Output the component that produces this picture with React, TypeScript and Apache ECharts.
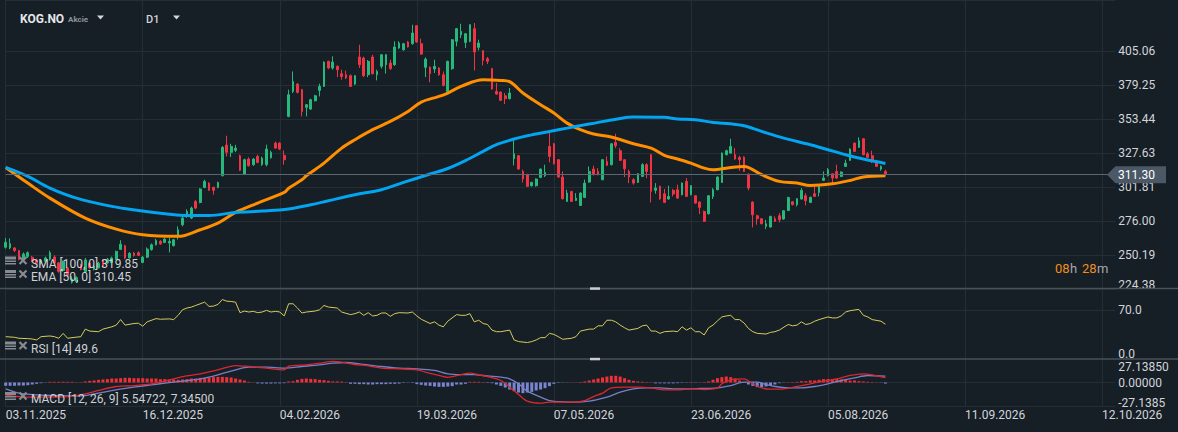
import React, { useEffect, useRef } from 'react';
import * as echarts from 'echarts';

// ---------------- data ----------------
const dateLabels = ['03.11.2025', '16.12.2025', '04.02.2026', '19.03.2026', '07.05.2026', '23.06.2026', '05.08.2026', '11.09.2026', '12.10.2026'];
const labelStep = 31;
const categoryCount = 252;

const opens = [256.1,255.6,255.6,253.6,247.0,249.0,248.5,246.5,244.0,245.5,247.0,248.7,244.2,238.5,240.4,229.5,230.0,242.5,237.5,244.0,239.3,240.5,246.0,244.2,244.5,247.1,254.5,257.3,248.0,251.7,252.0,244.6,248.6,254.4,258.0,260.6,259.8,259.3,257.3,264.4,273.2,279.6,278.3,291.0,290.2,301.6,304.9,301.6,301.6,310.5,333.8,328.3,329.8,325.7,311.5,323.2,318.9,325.2,319.0,318.9,324.2,335.3,335.3,326.0,355.6,374.6,380.2,375.9,362.5,361.2,367.5,375.4,378.4,397.5,392.4,393.7,388.1,387.3,386.6,380.2,400.8,400.0,387.3,400.8,387.3,393.7,394.9,396.2,394.9,407.6,406.3,412.2,410.9,424.6,410.9,392.9,393.1,391.6,392.4,387.3,374.6,391.9,412.7,417.7,411.9,412.7,422.3,408.1,405.6,399.5,391.9,374.6,374.1,371.3,369.1,323.4,325.7,313.8,311.3,302.9,302.9,309.2,310.5,332.8,334.8,322.7,309.5,291.0,298.6,291.7,287.9,294.0,305.7,315.6,313.8,307.5,321.4,318.9,335.9,329.5,322.7,313.8,307.5,305.4,310.0,318.9,326.5,299.4,302.4,296.8,292.8,299.4,299.9,296.1,306.2,296.1,295.3,290.5,283.4,281.6,294.8,299.9,305.4,326.5,327.7,326.5,324.4,324.7,311.8,290.5,280.1,277.8,272.0,271.5,277.8,280.1,277.6,284.1,290.7,288.5,292.8,295.3,290.2,296.8,297.8,307.0,310.5,312.0,313.8,310.0,317.6,322.2,335.3,332.1,338.6,327.2,325.7,320.1,315.6,313.8];
const closes = [259.9,258.9,253.6,246.7,251.0,252.0,245.9,244.0,246.0,248.0,252.0,244.2,237.8,245.4,234.8,232.0,233.0,239.2,246.5,240.5,241.6,244.0,242.0,247.0,248.0,253.0,258.5,247.9,251.5,249.8,250.0,248.6,254.7,258.0,261.3,258.7,262.3,260.6,261.8,269.4,278.3,283.4,285.9,285.9,300.4,306.2,299.4,299.4,305.4,332.1,328.3,332.8,331.5,314.6,322.7,318.1,323.2,320.6,323.9,330.8,328.3,331.5,330.8,322.7,372.1,382.2,373.9,359.4,364.5,368.3,371.3,378.4,396.9,392.4,396.9,391.1,386.0,384.8,378.4,386.6,394.9,386.6,397.5,388.1,389.8,402.5,402.5,391.9,408.4,411.4,410.9,408.4,419.0,412.2,403.0,399.2,388.1,393.7,387.3,379.2,397.5,413.9,422.3,420.3,418.5,425.3,404.6,411.4,398.2,397.5,376.4,372.6,367.8,369.1,373.4,327.2,315.6,308.2,302.4,305.4,308.0,315.6,313.0,325.2,319.6,309.5,293.0,297.3,291.0,293.5,297.3,304.9,313.8,311.3,311.3,322.7,318.4,334.8,333.3,322.2,315.8,309.5,304.9,312.0,318.9,313.8,298.6,301.1,292.8,290.2,294.8,296.6,293.5,304.9,294.8,302.9,289.7,286.4,275.8,295.3,299.9,309.5,327.7,329.5,332.8,323.2,322.7,313.8,301.1,280.8,277.8,274.0,274.0,279.6,275.8,277.0,283.9,294.0,288.5,293.0,299.4,291.5,294.0,294.8,302.4,308.7,315.1,308.7,308.7,313.3,320.1,330.8,329.0,337.1,326.5,324.4,322.7,317.6,317.6,311.3];
const lows = [255.1,254.6,252.5,246.2,246.0,248.0,245.0,243.0,243.0,245.0,246.0,243.5,236.8,237.5,233.5,228.5,229.0,238.5,236.5,239.5,238.5,240.0,241.0,243.5,244.0,246.5,254.0,247.0,247.5,249.0,249.5,244.0,248.0,253.5,257.5,258.0,259.3,252.2,256.8,262.0,272.0,278.5,277.5,285.0,289.5,301.0,299.0,296.1,301.0,310.0,325.2,324.7,328.5,314.0,311.0,317.5,318.0,320.0,318.0,317.6,323.5,331.0,330.0,318.9,355.0,373.4,373.0,355.6,355.6,360.5,367.0,370.8,378.0,391.5,391.1,385.5,383.5,384.0,378.0,379.5,392.4,385.5,385.5,387.5,383.0,392.0,388.1,391.0,394.0,407.0,405.5,408.0,410.1,411.5,402.5,385.5,381.5,388.6,386.5,378.4,374.0,391.0,408.9,415.2,407.6,412.0,390.6,405.8,394.4,395.4,376.0,372.0,367.3,365.0,368.5,318.4,315.0,305.4,302.0,302.2,302.2,308.7,309.5,320.6,319.0,309.0,292.5,290.5,290.5,291.2,287.5,293.5,305.2,310.8,310.8,307.0,318.0,318.4,331.5,321.7,309.5,304.9,303.7,305.0,309.5,308.7,290.2,296.8,292.3,289.7,292.3,294.8,293.0,295.6,294.3,295.6,289.2,281.4,275.3,281.0,292.8,299.4,305.0,326.0,327.2,322.7,314.3,313.3,299.4,271.2,273.2,273.5,269.9,271.0,275.3,275.0,277.0,283.6,288.0,287.2,292.3,287.9,289.7,294.3,294.8,306.5,310.0,304.9,308.2,309.5,317.1,321.7,328.5,331.6,326.0,323.9,320.1,317.1,314.3,310.8];
const highs = [263.2,262.9,256.3,254.1,252.2,253.0,249.5,247.5,247.0,249.0,253.5,250.0,245.0,246.0,241.0,234.0,234.0,243.5,248.0,245.0,243.0,245.0,247.0,248.0,249.0,253.5,261.5,258.0,252.5,252.5,253.0,249.5,256.0,259.0,262.5,261.5,263.5,263.1,262.5,272.0,280.0,285.0,287.0,292.0,301.0,307.5,305.5,302.2,306.0,333.0,340.9,334.8,334.0,326.5,323.5,324.5,324.0,326.5,325.0,334.1,329.5,336.5,336.0,329.8,375.9,389.8,381.0,376.5,365.0,369.0,372.0,380.5,397.5,398.0,401.3,394.4,391.1,390.4,387.5,387.0,410.1,401.0,398.5,402.5,391.1,403.0,403.0,398.7,412.7,412.7,411.5,413.0,425.3,425.0,414.7,400.5,393.5,398.7,393.0,389.8,398.0,414.5,422.8,426.1,419.0,425.8,426.6,413.9,406.0,400.8,392.5,381.0,374.5,373.4,377.2,337.4,326.0,315.1,312.0,306.0,308.5,316.0,318.9,343.5,335.5,323.2,313.8,299.9,299.0,297.3,298.0,307.5,317.6,318.1,316.3,323.2,325.2,335.3,342.4,331.5,323.2,315.1,308.7,312.5,320.1,320.1,327.0,304.9,303.0,300.4,302.9,300.4,303.7,305.4,308.7,303.4,295.8,291.0,284.0,295.8,301.1,310.0,328.2,330.3,338.6,331.5,325.7,325.2,312.0,291.0,280.8,278.3,277.0,280.1,279.6,282.1,284.4,294.5,291.2,293.5,301.1,297.3,294.8,302.4,302.9,313.8,316.3,312.5,318.9,313.8,322.7,331.3,335.8,339.7,339.1,328.5,329.5,320.6,318.4,315.1];

const sma100 = [[0,316.8],[5,310.0],[10,301.1],[16,293.5],[24,287.2],[30,284.1],[37,281.3],[41,280.3],[46,280.3],[52,282.6],[58,283.6],[64,285.2],[69,288.4],[73,291.5],[79,296.0],[85,299.9],[90,305.4],[96,311.8],[100,316.0],[104,322.0],[108,329.0],[111,334.1],[115,338.4],[118,340.9],[123,344.2],[127,346.7],[132,349.8],[139,354.1],[142,355.1],[149,354.9],[152,353.6],[156,353.1],[160,351.0],[164,350.0],[167,348.5],[171,344.2],[176,339.1],[182,334.1],[186,330.3],[190,326.5],[194,323.2],[199,319.85]];
const ema50 = [[0,316.8],[5,304.9],[10,293.5],[18,278.3],[25,269.9],[31,265.6],[39,264.4],[44,269.4],[48,274.5],[52,282.6],[57,289.7],[63,297.8],[64,301.0],[67,307.4],[68,310.5],[72,320.1],[76,331.5],[79,337.9],[83,345.5],[87,351.8],[91,359.4],[94,366.5],[98,370.8],[100,373.4],[103,378.4],[108,383.5],[112,383.0],[114,382.0],[117,373.4],[121,364.5],[124,358.2],[127,350.5],[130,345.5],[133,342.2],[137,339.9],[142,334.8],[146,331.5],[149,326.0],[152,323.2],[155,320.1],[158,316.3],[160,315.1],[164,316.8],[167,317.6],[171,311.3],[175,306.2],[179,304.9],[182,303.1],[187,304.4],[191,306.9],[194,309.5],[199,310.45]];

const rsi14 = [[0,31.9],[2,31.0],[3,29.6],[5,29.1],[6,28.6],[7,27.2],[8,31.9],[10,32.9],[11,31.9],[12,29.6],[13,36.6],[14,29.6],[15,30.5],[17,31.9],[18,42.7],[19,39.9],[21,39.0],[22,42.7],[24,46.0],[25,48.4],[26,56.3],[27,48.4],[29,50.7],[30,51.2],[31,46.9],[32,53.1],[34,57.7],[35,56.8],[37,57.3],[38,56.3],[39,62.4],[40,70.4],[41,72.8],[42,74.2],[43,76.5],[45,81.2],[46,75.1],[47,75.6],[48,77.9],[49,85.0],[50,82.6],[51,82.2],[52,81.2],[53,66.2],[54,68.5],[55,67.1],[56,68.1],[57,66.2],[58,67.1],[59,69.5],[60,67.1],[61,68.1],[62,67.1],[63,61.5],[64,78.9],[65,78.9],[66,72.8],[67,65.7],[68,67.1],[70,68.5],[71,70.4],[72,76.5],[73,74.2],[75,72.8],[76,67.1],[78,63.4],[79,64.8],[80,67.1],[81,62.4],[82,66.2],[83,61.5],[84,62.4],[85,65.7],[86,65.7],[87,61.0],[88,64.8],[89,66.2],[91,65.7],[92,67.1],[93,61.5],[94,56.8],[96,50.7],[97,53.1],[98,48.4],[99,46.0],[100,54.0],[102,63.4],[103,62.4],[104,62.4],[105,64.8],[106,53.1],[107,55.4],[108,50.7],[109,49.3],[110,41.3],[111,39.0],[112,39.0],[114,41.3],[115,27.2],[116,24.9],[118,23.5],[119,24.9],[120,27.2],[121,30.5],[122,30.5],[123,36.6],[124,35.2],[125,31.9],[126,28.2],[128,29.6],[129,31.9],[130,39.9],[132,42.7],[133,42.7],[134,47.4],[135,47.4],[136,55.4],[137,55.4],[138,53.1],[139,48.4],[140,44.6],[141,41.3],[143,43.7],[144,47.4],[145,48.4],[146,39.9],[147,39.9],[148,36.6],[149,39.0],[151,39.9],[152,39.0],[153,46.0],[154,41.3],[155,44.6],[156,39.0],[157,39.0],[158,34.3],[159,44.6],[160,48.4],[161,54.5],[162,60.1],[163,61.5],[164,62.4],[165,56.3],[166,56.3],[167,51.6],[168,43.7],[169,39.0],[170,36.6],[172,35.7],[173,38.0],[174,39.0],[175,41.3],[177,49.3],[178,47.4],[179,48.4],[180,53.1],[181,49.3],[182,50.7],[183,54.0],[184,56.3],[186,60.1],[187,58.7],[188,58.7],[189,61.5],[190,67.1],[191,69.0],[193,70.9],[194,62.4],[195,60.1],[196,56.3],[198,54.0],[199,49.6]];

const macdLine = [[0,-15.0],[3,-16.2],[6,-16.9],[10,-16.9],[14,-16.2],[18,-13.1],[21,-9.2],[25,-4.6],[29,-3.5],[33,-1.5],[36,1.5],[40,6.9],[44,10.0],[48,14.6],[52,19.6],[55,18.5],[59,16.6],[63,14.6],[64,18.9],[68,20.4],[71,22.3],[74,24.3],[76,23.5],[79,20.8],[82,19.3],[85,16.6],[89,15.8],[93,14.6],[96,10.5],[98,8.1],[100,6.0],[103,9.2],[105,10.8],[107,8.9],[109,6.9],[112,2.3],[114,-5.4],[116,-13.9],[118,-21.6],[121,-23.9],[123,-22.7],[126,-22.7],[128,-22.7],[131,-20.8],[133,-16.2],[135,-12.3],[137,-6.2],[140,-5.4],[143,-5.4],[146,-6.2],[149,-8.5],[152,-8.5],[155,-7.3],[158,-8.1],[161,-6.5],[162,-1.5],[164,3.1],[167,4.2],[169,-1.5],[171,-6.2],[173,-7.7],[176,-7.3],[179,-4.6],[182,-1.5],[185,1.5],[188,4.2],[191,8.1],[194,10.0],[196,8.9],[199,5.5]];
const signalLine = [[0,-7.3],[3,-12.3],[6,-13.9],[10,-15.0],[14,-15.4],[18,-15.0],[21,-12.3],[25,-8.5],[29,-5.4],[33,-2.7],[36,-0.8],[40,1.5],[44,4.2],[48,8.9],[52,14.6],[55,17.7],[59,17.7],[63,16.6],[67,18.5],[71,20.4],[74,22.3],[77,23.1],[80,21.6],[85,18.5],[89,16.6],[93,15.8],[97,13.9],[100,10.0],[103,9.2],[106,9.2],[108,8.1],[112,6.2],[114,4.2],[116,-1.5],[118,-10.0],[121,-16.9],[123,-20.8],[126,-22.3],[129,-22.7],[132,-21.6],[134,-19.6],[136,-16.9],[139,-11.2],[142,-7.3],[145,-6.2],[148,-6.2],[151,-7.3],[154,-7.3],[157,-6.9],[161,-6.2],[164,-3.5],[167,0.4],[170,0.4],[172,-2.3],[174,-4.6],[177,-6.2],[180,-6.2],[183,-4.6],[186,-1.5],[189,2.3],[192,5.4],[195,8.1],[199,7.3]];
const macdHist = [-3.8,-3.8,-3.8,-3.5,-3.5,-3.1,-2.3,-1.5,-0.8,-0.3,0.8,0.8,0.8,0.8,0.8,0.8,0.3,0.4,1.2,1.9,2.3,3.1,3.5,3.9,4.6,4.6,5.0,5.4,5.4,5.0,5.0,5.0,4.6,4.6,4.6,3.9,3.9,3.5,3.5,3.1,3.5,3.9,4.6,4.6,5.4,5.4,5.8,6.2,6.5,6.5,6.2,5.8,4.6,3.5,2.3,0.8,0.3,-1.0,-1.2,-1.2,-1.2,-1.0,-1.0,-0.8,1.2,1.5,3.1,4.2,4.6,4.2,3.9,3.1,2.7,1.9,1.2,1.2,1.0,0.5,-1.5,-1.5,-1.9,-1.9,-2.3,-2.3,-1.9,-1.9,-1.9,-1.5,-1.5,-1.2,-0.5,-0.3,-0.5,-1.9,-2.7,-3.5,-3.9,-4.6,-5.0,-5.0,-4.6,-4.2,-2.3,-2.3,-1.5,0.8,0.8,0.8,0.5,-0.5,-0.8,-2.3,-3.9,-5.8,-8.1,-10.0,-11.6,-12.3,-11.6,-10.8,-9.2,-8.1,-6.5,-4.2,-1.5,-0.5,-0.3,-0.2,0.2,0.3,0.6,1.2,2.3,3.5,4.6,5.8,6.9,7.7,7.7,6.9,5.0,3.1,1.9,1.2,0.8,0.5,0.3,-1.0,-1.0,-1.0,-1.0,-1.0,-0.8,-0.5,-0.3,0.5,-0.3,0.3,0.5,1.2,3.1,5.0,6.2,6.9,6.2,4.6,2.3,0.8,-2.3,-3.9,-5.4,-5.4,-4.6,-3.9,-2.3,-0.8,-0.3,0.3,0.5,0.8,1.5,1.5,2.3,2.3,3.1,3.9,3.9,3.9,3.9,3.5,3.1,2.3,2.3,1.5,1.2,0.8,0.5,0.3,-0.3,-1.2];

const priceTicks = ['224.38', '250.19', '276.00', '301.81', '327.63', '353.44', '379.25', '405.06'];
const rsiTicks = ['0.0', '70.0'];
const macdTicks = ['-27.1385', '0.00000', '27.13850'];

const symbolName = 'KOG.NO';
const symbolType = 'Akcie';
const timeframe = 'D1';
const smaLegend = 'SMA [100, 0] 319.85';
const emaLegend = 'EMA [50, 0] 310.45';
const rsiLegend = 'RSI [14] 49.6';
const macdLegend = 'MACD [12, 26, 9] 5.54722, 7.34500';
const timerParts = ['08', 'h', '28', 'm'];

// ---------------- styles ----------------
const FONT = 'Roboto, "Noto Sans", sans-serif';
const BG = '#161e26';
const GRID = '#252d35';
const SEP = '#4a5259';
const AXIS_TEXT = '#d2d5d9';
const UP = '#27b87c';
const DOWN = '#ef3444';
const ORANGE = '#ff8f00';
const BLUE = '#03a4f0';
const ICON = '#878c92';
const LEGEND_TEXT = '#cdd0d4';

const PRICE_MIN = 224.38;
const PRICE_MAX = 444.12;
const PRICE_STEP = 25.8114;
const MACD_R = 27.1385;

const PLOT_LEFT = 5.7;
const PLOT_WIDTH = 1109.6;

export default function App() {
  const ref = useRef<HTMLDivElement>(null);

  useEffect(() => {
    document.body.style.margin = '0';
    const el = ref.current;
    if (!el) return;
    const chart = echarts.init(el, undefined, { renderer: 'svg' });

    const categories = Array.from({ length: categoryCount }, (_, i) => String(i));
    const isLabelIndex = (index: number) => index % labelStep === 0 && index / labelStep < dateLabels.length;
    const candleData = opens.map((o, i) => [o, closes[i], lows[i], highs[i]]);

    const labelStyle = { color: AXIS_TEXT, fontSize: 12, fontFamily: FONT };

    const xAxis = (gridIndex: number, showLabels: boolean) => ({
      type: 'category',
      gridIndex,
      data: categories,
      boundaryGap: false,
      axisLine: { show: false },
      axisTick: { show: false },
      axisLabel: showLabels
        ? {
            show: true,
            interval: isLabelIndex,
            formatter: (_v: string, idx: number) => dateLabels[idx / labelStep] ?? '',
            align: 'left',
            margin: 3,
            ...labelStyle,
          }
        : { show: false },
      splitLine: { show: true, interval: isLabelIndex, lineStyle: { color: GRID, width: 1 } },
    });

    const priceSplitColors = priceTicks.map(() => GRID).concat(['rgba(0,0,0,0)']);

    const option: any = {
      animation: false,
      backgroundColor: BG,
      grid: [
        { left: PLOT_LEFT, width: PLOT_WIDTH, top: 0, height: 289 },
        { left: PLOT_LEFT, width: PLOT_WIDTH, top: 289, height: 70 },
        { left: PLOT_LEFT, width: PLOT_WIDTH, top: 359, height: 47 },
      ],
      xAxis: [xAxis(0, false), xAxis(1, false), xAxis(2, true)],
      yAxis: [
        {
          type: 'value',
          gridIndex: 0,
          position: 'right',
          min: PRICE_MIN,
          max: PRICE_MAX,
          interval: PRICE_STEP,
          axisLine: { show: false },
          axisTick: { show: false },
          splitLine: { show: true, lineStyle: { color: priceSplitColors, width: 1 } },
          axisLabel: {
            margin: 3,
            ...labelStyle,
            formatter: (v: number) => {
              const k = Math.round((v - PRICE_MIN) / PRICE_STEP);
              if (k < 0 || k >= priceTicks.length || Math.abs(PRICE_MIN + k * PRICE_STEP - v) > 0.05) return '';
              return k === 0 ? `{low|${priceTicks[0]}}` : priceTicks[k];
            },
            rich: { low: { ...labelStyle, padding: [0, 0, 9, 0] } },
          },
        },
        {
          type: 'value',
          gridIndex: 1,
          position: 'right',
          min: 0,
          max: 100,
          interval: 70,
          axisLine: { show: false },
          axisTick: { show: false },
          splitLine: { show: true, lineStyle: { color: ['rgba(0,0,0,0)', GRID, 'rgba(0,0,0,0)'], width: 1 } },
          axisLabel: {
            margin: 3,
            ...labelStyle,
            formatter: (v: number) => (v === 0 ? `{low|${rsiTicks[0]}}` : v === 70 ? rsiTicks[1] : ''),
            rich: { low: { ...labelStyle, padding: [0, 0, 10, 0] } },
          },
        },
        {
          type: 'value',
          gridIndex: 2,
          position: 'right',
          min: -MACD_R,
          max: MACD_R,
          interval: MACD_R,
          axisLine: { show: false },
          axisTick: { show: false },
          splitLine: { show: true, lineStyle: { color: [GRID, GRID, 'rgba(0,0,0,0)'], width: 1 } },
          axisLabel: {
            margin: 3,
            ...labelStyle,
            formatter: (v: number) => {
              const k = Math.round((v + MACD_R) / MACD_R);
              if (k === 0) return `{low|${macdTicks[0]}}`;
              if (k === 1) return macdTicks[1];
              if (k === 2) return `{high|${macdTicks[2]}}`;
              return '';
            },
            rich: {
              low: { ...labelStyle, padding: [0, 0, 6, 0] },
              high: { ...labelStyle, padding: [16, 0, 0, 0] },
            },
          },
        },
      ],
      series: [
        {
          type: 'candlestick',
          xAxisIndex: 0,
          yAxisIndex: 0,
          data: candleData,
          barWidth: 2.2,
          clip: false,
          itemStyle: { color: UP, color0: DOWN, borderColor: UP, borderColor0: DOWN, borderWidth: 1 },
          markLine: {
            silent: true,
            symbol: ['none', 'none'],
            label: { show: false },
            lineStyle: { color: '#5c6670', type: 'solid', width: 1 },
            data: [{ yAxis: closes[closes.length - 1] }],
          },
        },
        {
          type: 'line',
          xAxisIndex: 0,
          yAxisIndex: 0,
          data: ema50,
          smooth: 0.35,
          showSymbol: false,
          lineStyle: { color: ORANGE, width: 3 },
        },
        {
          type: 'line',
          xAxisIndex: 0,
          yAxisIndex: 0,
          data: sma100,
          smooth: 0.35,
          showSymbol: false,
          lineStyle: { color: BLUE, width: 3 },
        },
        {
          type: 'line',
          xAxisIndex: 1,
          yAxisIndex: 1,
          data: rsi14,
          showSymbol: false,
          lineStyle: { color: '#d4cd5c', width: 1 },
        },
        {
          type: 'bar',
          xAxisIndex: 2,
          yAxisIndex: 2,
          data: macdHist,
          barWidth: 3,
          itemStyle: { color: (p: any) => (p.value >= 0 ? '#ee3038' : '#7a85d2') },
        },
        {
          type: 'line',
          xAxisIndex: 2,
          yAxisIndex: 2,
          data: signalLine,
          smooth: 0.3,
          showSymbol: false,
          lineStyle: { color: '#7680c4', width: 1.3 },
        },
        {
          type: 'line',
          xAxisIndex: 2,
          yAxisIndex: 2,
          data: macdLine,
          smooth: 0.3,
          showSymbol: false,
          lineStyle: { color: '#d9282f', width: 1.3 },
        },
      ],
    };

    chart.setOption(option);

    const lastClose = closes[closes.length - 1];
    const py = chart.convertToPixel({ yAxisIndex: 0 }, lastClose) as number;

    const legendRow = (y: number, label: string) => {
      const c = y - 3;
      return [
        { type: 'rect', z: 100, shape: { x: 5, y: c - 4, width: 11, height: 3 }, style: { fill: ICON } },
        { type: 'rect', z: 100, shape: { x: 5, y: c, width: 11, height: 1.5 }, style: { fill: ICON } },
        { type: 'rect', z: 100, shape: { x: 5, y: c + 2.5, width: 11, height: 1.5 }, style: { fill: ICON } },
        { type: 'line', z: 100, shape: { x1: 19.5, y1: c - 3.5, x2: 26.5, y2: c + 3.5 }, style: { stroke: ICON, lineWidth: 2.2 } },
        { type: 'line', z: 100, shape: { x1: 26.5, y1: c - 3.5, x2: 19.5, y2: c + 3.5 }, style: { stroke: ICON, lineWidth: 2.2 } },
        { type: 'text', z: 100, x: 31, y, style: { text: label, fill: LEGEND_TEXT, font: `12px ${FONT}`, align: 'left', verticalAlign: 'middle' } },
      ];
    };

    const text = (x: number, y: number, t: string, font: string, fill: string) => ({
      type: 'text', z: 100, x, y, style: { text: t, font, fill, align: 'left', verticalAlign: 'middle' },
    });

    const graphic: any[] = [
      { type: 'line', z: 90, shape: { x1: 0, y1: 288.5, x2: 1178, y2: 288.5 }, style: { stroke: SEP, lineWidth: 1.5 } },
      { type: 'line', z: 90, shape: { x1: 0, y1: 359, x2: 1178, y2: 359 }, style: { stroke: SEP, lineWidth: 1.5 } },
      { type: 'rect', z: 95, shape: { x: 590, y: 287.3, width: 10, height: 2.5 }, style: { fill: '#c9ccd0' } },
      { type: 'rect', z: 95, shape: { x: 590, y: 357.8, width: 10, height: 2.5 }, style: { fill: '#c9ccd0' } },
      text(20, 19, symbolName, `bold 12px ${FONT}`, '#e4e6e9'),
      text(68, 19.5, symbolType, `bold 8px ${FONT}`, '#8d949a'),
      { type: 'polygon', z: 100, shape: { points: [[97, 15.5], [104, 15.5], [100.5, 19.5]] }, style: { fill: '#d3d6da' } },
      text(146, 19.5, timeframe, `500 11px ${FONT}`, '#d3d6da'),
      { type: 'polygon', z: 100, shape: { points: [[173, 15.5], [180, 15.5], [176.5, 19.5]] }, style: { fill: '#d3d6da' } },
      ...legendRow(263.5, smaLegend),
      ...legendRow(277, emaLegend),
      ...legendRow(348.5, rsiLegend),
      ...legendRow(399, macdLegend),
      text(1055, 268, timerParts[0], `13px ${FONT}`, '#f28d18'),
      text(1070, 268, timerParts[1], `13px ${FONT}`, '#a3a8ad'),
      text(1082, 268, timerParts[2], `13px ${FONT}`, '#f28d18'),
      text(1097, 268, timerParts[3], `13px ${FONT}`, '#a3a8ad'),
      {
        type: 'polygon',
        z: 110,
        shape: { points: [[1107, py], [1115.5, py - 8.5], [1166, py - 8.5], [1166, py + 8.5], [1115.5, py + 8.5]] },
        style: { fill: '#4b5966' },
      },
      { ...text(1118, py, lastClose.toFixed(2), `12px ${FONT}`, '#ffffff'), z: 111 },
    ];

    chart.setOption({ graphic });

    return () => {
      chart.dispose();
    };
  }, []);

  return <div ref={ref} style={{ width: 1178, height: 432 }} />;
}
